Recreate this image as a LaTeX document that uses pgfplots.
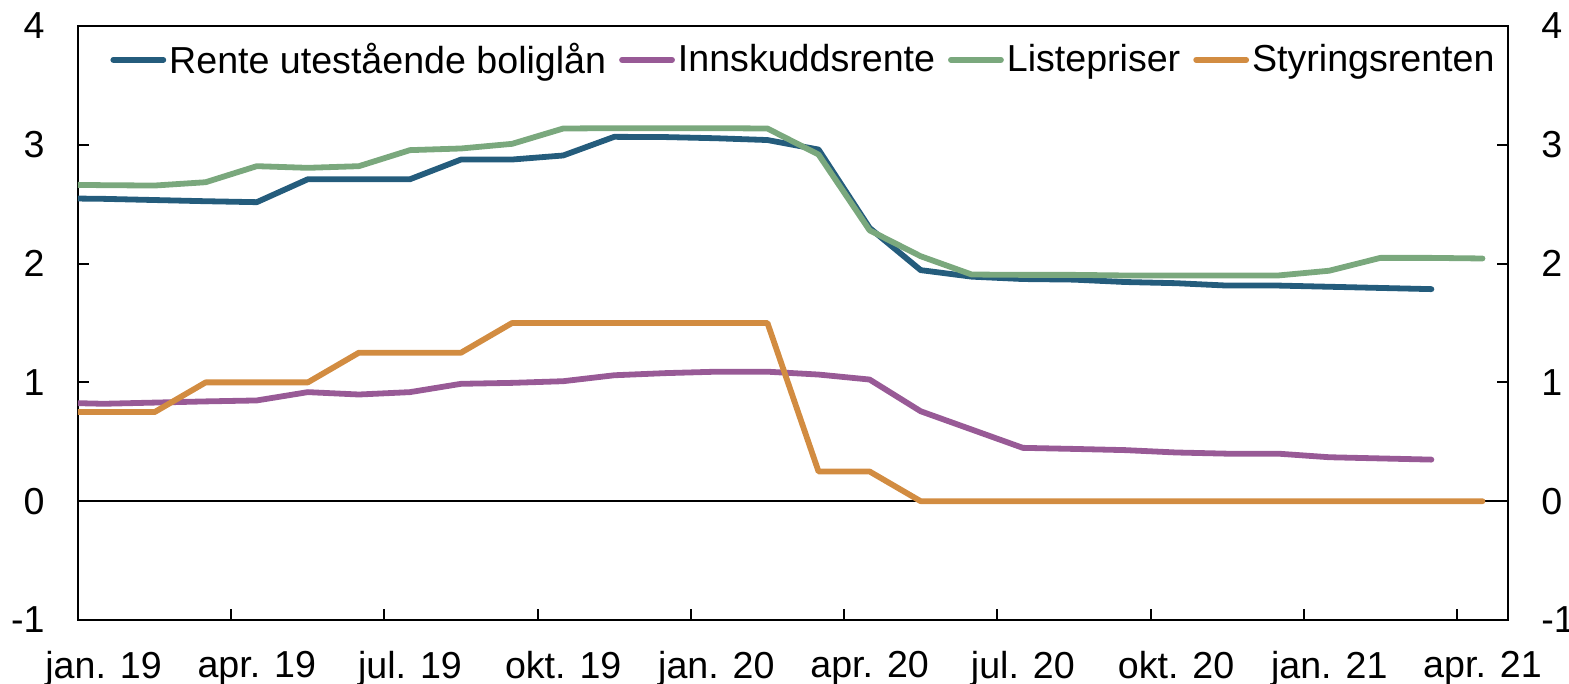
\documentclass[border=0pt]{standalone}
\usepackage{pgfplots}
\pgfplotsset{compat=1.18}
\usepackage{pgfplotstable}
\usepackage{fontspec}
\setmainfont{Liberation Sans}
\usetikzlibrary{calc}
\definecolor{cblue}{RGB}{36,92,124}
\definecolor{cpurple}{RGB}{152,90,150}
\definecolor{cgreen}{RGB}{122,168,125}
\definecolor{corange}{RGB}{210,140,65}
\newcommand\lf{\fontsize{18.8}{22}\selectfont}

% m = months since jan. 2019 (0 = jan. 19)
\pgfplotstableread{
m  v
-1 2.55
0  2.545
1  2.535
2  2.525
3  2.517
4  2.71
5  2.71
6  2.71
7  2.876
8  2.876
9  2.91
10 3.067
11 3.065
12 3.055
13 3.04
14 2.96
15 2.30
16 1.945
17 1.89
18 1.87
19 1.865
20 1.845
21 1.835
22 1.815
23 1.815
24 1.805
25 1.795
26 1.785
}\boliglan
\pgfplotstableread{
m  v
-1 0.83
0  0.82
1  0.83
2  0.84
3  0.848
4  0.918
5  0.898
6  0.918
7  0.988
8  0.996
9  1.01
10 1.06
11 1.078
12 1.09
13 1.09
14 1.066
15 1.024
16 0.757
17 0.603
18 0.449
19 0.44
20 0.43
21 0.41
22 0.40
23 0.40
24 0.37
25 0.36
26 0.35
}\innskudd
\pgfplotstableread{
m  v
-1 2.665
0  2.66
1  2.657
2  2.685
3  2.82
4  2.806
5  2.82
6  2.955
7  2.969
8  3.008
9  3.137
10 3.14
11 3.14
12 3.14
13 3.137
14 2.918
15 2.28
16 2.062
17 1.908
18 1.905
19 1.905
20 1.90
21 1.90
22 1.90
23 1.90
24 1.94
25 2.048
26 2.048
27 2.043
}\liste
\pgfplotstableread{
m  v
-1 0.75
0  0.75
1  0.75
2  1.0
3  1.0
4  1.0
5  1.25
6  1.25
7  1.25
8  1.5
9  1.5
10 1.5
11 1.5
12 1.5
13 1.5
14 0.25
15 0.25
16 0
17 0
18 0
19 0
20 0
21 0
22 0
23 0
24 0
25 0
26 0
27 0
}\styring

\begin{document}
\begin{tikzpicture}
\begin{axis}[name=ax, scale only axis, width=715pt, height=297pt,
  xmin=-0.5, xmax=27.5, ymin=-1, ymax=4,
  axis line style={line width=1pt, black},
  xtick={2.5,5.5,...,26.5}, xticklabels={,,,,,,,,,},
  extra x ticks={0,3,...,27},
  extra x tick labels={jan. 19, apr. 19, jul. 19, okt. 19, jan. 20, apr. 20, jul. 20, okt. 20, jan. 21, apr. 21},
  extra x tick style={major tick length=0pt},
  xtick pos=bottom, ytick pos=both, tick align=inside,
  major tick length=5.5pt, tick style={line width=1pt, black},
  ytick={-1,0,...,4}, yticklabels={-1,0,1,2,3,4},
  xticklabel style={font=\lf, inner sep=0pt, yshift=-15.5pt},
  yticklabel style={font=\lf, inner sep=0pt, xshift=-16.5pt},
  legend style={at={(0.0224,0.943)}, anchor=west, draw=none, fill=none,
    inner sep=0pt, font=\lf, legend columns=4,
    /tikz/every even column/.append style={column sep=5pt},
    nodes={inner sep=1.5pt}},
  legend image code/.code={\draw[#1, line cap=round] (0pt,0pt) -- (25pt,0pt);},
  every axis plot/.append style={line width=2.9pt, line join=round, line cap=round},
]
\addplot[black, line width=1pt, line cap=butt, forget plot] coordinates {(-0.5,0) (27.5,0)};
\addplot[cblue] table[x=m, y=v] {\boliglan};
\addlegendentry{Rente utestående boliglån}
\addplot[cpurple] table[x=m, y=v] {\innskudd};
\addlegendentry{Innskuddsrente}
\addplot[cgreen] table[x=m, y=v] {\liste};
\addlegendentry{Listepriser}
\addplot[corange] table[x=m, y=v] {\styring};
\addlegendentry{Styringsrenten}
\end{axis}
\begin{axis}[scale only axis, width=715pt, height=297pt,
  xmin=-0.5, xmax=27.5, ymin=-1, ymax=4,
  axis x line=none, axis y line*=right,
  axis line style={draw=none},
  major tick length=0pt,
  ytick={-1,0,...,4}, yticklabels={-1,0,1,2,3,4},
  yticklabel style={font=\lf, inner sep=0pt, xshift=16.5pt},
]
\addplot[draw=none] coordinates {(0,0)};
\end{axis}
\pgfresetboundingbox
\path[use as bounding box] ($(ax.south west)+(-39pt,-32pt)$) rectangle ($(ax.north east)+(30.5pt,13pt)$);
\end{tikzpicture}
\end{document}
